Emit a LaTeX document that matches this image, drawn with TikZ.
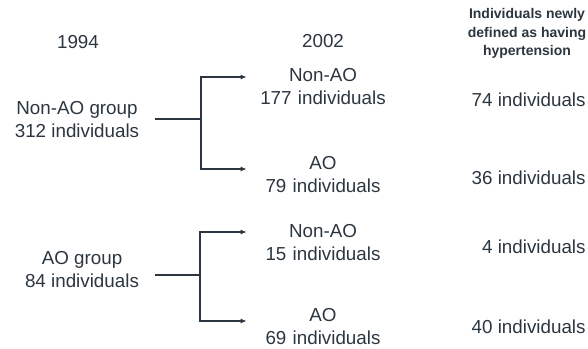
\documentclass[tikz,border=0pt]{standalone}
\usepackage{fontspec}
\setmainfont{Liberation Sans}
\usepackage{xcolor}
\usepackage{tikz}
\definecolor{inkslate}{RGB}{44,54,64}
\usetikzlibrary{arrows.meta,positioning,calc}

\begin{document}
\begin{tikzpicture}[
    x=0.5pt, y=-0.5pt,
    year/.style={text=inkslate, inner sep=0pt, font=\fontsize{9.4}{11.5}\selectfont},
    group/.style={text=inkslate, inner sep=0pt, align=center, font=\fontsize{9.4}{11.5}\selectfont},
    outcome/.style={group, text width=76pt},
    count/.style={text=inkslate, inner sep=0pt, anchor=east, font=\fontsize{9.4}{11.5}\selectfont},
    header/.style={text=inkslate, inner sep=0pt, align=center, font=\fontsize{7}{9.3}\selectfont\bfseries},
    link/.style={draw=inkslate, line width=0.8pt},
    arrow/.style={link, -{Latex[length=3pt,width=2.6pt]}}
]
\useasboundingbox (0,0) rectangle (588,348);

% Column heads
\node[year] (y1994) at (78,42) {1994};
\node[year] (y2002) at (323,41) {2002};
\node[header] (newhyp) at (527,33.5) {Individuals newly\\defined as having\\hypertension};

% 1994 groups
\node[group] (nonaogrp) at (77,120) {Non-AO group\\312 individuals};
\node[group] (aogrp) at (82,270) {AO group\\84 individuals};

% 2002 groups
\node[outcome] (nonao1) at (323,86.5) {Non-AO\\177 individuals};
\node[outcome] (ao1) at (323,174.5) {AO\\79 individuals};
\node[outcome] (nonao2) at (323,243) {Non-AO\\15 individuals};
\node[outcome] (ao2) at (323,326.5) {AO\\69 individuals};

% New hypertension counts
\node[count] (hyp1) at (586,100) {74 individuals};
\node[count] (hyp2) at (586,178) {36 individuals};
\node[count] (hyp3) at (586,247) {4 individuals};
\node[count] (hyp4) at (586,327) {40 individuals};

% Splits
\coordinate (split1) at (201,119);
\coordinate (split2) at (200,275);

\draw[link, shorten <=7.5pt] (nonaogrp.east |- split1) -- (split1);
\draw[arrow] (split1) |- ([yshift=4.75pt]nonao1.west);
\draw[arrow] (split1) |- ([yshift=2.75pt]ao1.west);

\draw[link, shorten <=8pt] (aogrp.east |- split2) -- (split2);
\draw[arrow] (split2) |- ([yshift=5.5pt]nonao2.west);
\draw[arrow] (split2) |- ([yshift=2.75pt]ao2.west);

\end{tikzpicture}
\end{document}
